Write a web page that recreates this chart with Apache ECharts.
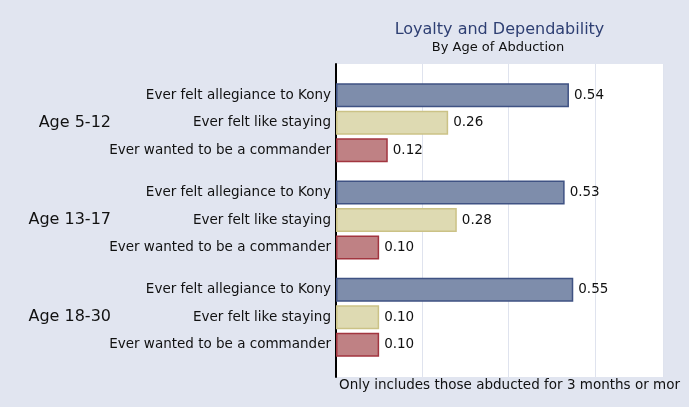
<!DOCTYPE html>
<html>
<head>
<meta charset="utf-8">
<script src="https://cdn.jsdelivr.net/npm/echarts@6/dist/echarts.min.js"></script>
<style>
html,body{margin:0;padding:0;background:#e1e5f0;}
#chart{width:689px;height:407px;}
</style>
</head>
<body>
<div id="chart"></div>
<script>
const categories = ['Age 5-12', 'Age 13-17', 'Age 18-30'];
const measures = ['Ever felt allegiance to Kony', 'Ever felt like staying', 'Ever wanted to be a commander'];
const konyValues = [0.54, 0.53, 0.55];
const stayingValues = [0.26, 0.28, 0.10];
const commanderValues = [0.12, 0.10, 0.10];
const titleText = 'Loyalty and Dependability';
const subtitleText = 'By Age of Abduction';
const noteText = 'Only includes those abducted for 3 months or more';

const FONT = '"DejaVu Sans", sans-serif';
const seriesValues = [konyValues, stayingValues, commanderValues];
const fills = ['#7e8dab', '#dedab2', '#bf8184'];
const borders = ['#3f5283', '#cbc286', '#a2353f'];

const chart = echarts.init(document.getElementById('chart'), null, {renderer: 'canvas'});
const option = {
  backgroundColor: '#e1e5f0',
  animation: false,
  grid: [
    {left: 336, top: 64, width: 327, height: 313, show: true, backgroundColor: '#ffffff', borderWidth: 0},
    {left: 336, top: 74, width: 327, height: 292}
  ],
  xAxis: [
    {gridIndex: 0, type: 'value', min: 0, max: 0.758, interval: 0.2,
      axisLabel: {show: false}, axisLine: {show: false}, axisTick: {show: false},
      splitLine: {show: true, lineStyle: {color: '#dfe3ee', width: 1}}},
    {gridIndex: 1, type: 'value', min: 0, max: 0.758, show: false}
  ],
  yAxis: [
    {gridIndex: 0, type: 'value', min: 0, max: 1,
      axisLine: {show: true, onZero: false, lineStyle: {color: '#000', width: 2}},
      axisLabel: {show: false}, axisTick: {show: false}, splitLine: {show: false}},
    {gridIndex: 1, type: 'category', data: categories, inverse: true,
      axisLine: {show: false}, axisTick: {show: false}, splitLine: {show: false},
      axisLabel: {interval: 0, formatter: () => measures.join('\n'), lineHeight: 27.5,
        align: 'right', margin: 5, fontFamily: FONT, fontSize: 13.5, color: '#111'}},
    {gridIndex: 1, type: 'category', data: categories, inverse: true, position: 'left', offset: 225,
      axisLine: {show: false}, axisTick: {show: false}, splitLine: {show: false},
      axisLabel: {interval: 0, margin: 0, align: 'right', fontFamily: FONT, fontSize: 16, color: '#111'}}
  ],
  series: measures.map((name, i) => ({
    name: name,
    type: 'bar',
    xAxisIndex: 1,
    yAxisIndex: 1,
    data: seriesValues[i],
    barWidth: 24,
    barGap: '14.6%',
    itemStyle: {color: fills[i], borderColor: borders[i], borderWidth: 1.5},
    label: {show: true, position: 'right', distance: 5,
      formatter: p => p.value.toFixed(2), fontFamily: FONT, fontSize: 13.5, color: '#111'}
  })),
  graphic: [
    {type: 'text', x: 499.5, y: 30, style: {text: titleText, align: 'center', verticalAlign: 'middle',
      font: '16px "DejaVu Sans", sans-serif', fill: '#2e3f73'}},
    {type: 'text', x: 498, y: 48, style: {text: subtitleText, align: 'center', verticalAlign: 'middle',
      font: '13px "DejaVu Sans", sans-serif', fill: '#111'}},
    {type: 'text', x: 339, y: 385, style: {text: noteText, align: 'left', verticalAlign: 'middle',
      font: '13.5px "DejaVu Sans", sans-serif', fill: '#111', width: 346, overflow: 'truncate', ellipsis: ''}}
  ]
};
chart.setOption(option);
</script>
</body>
</html>
